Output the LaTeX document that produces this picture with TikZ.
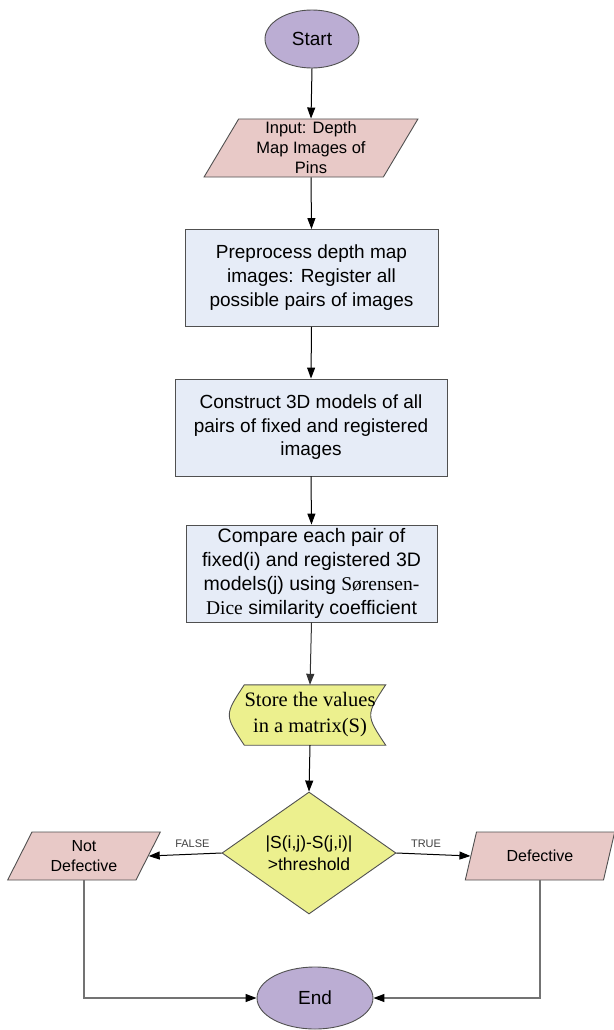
\documentclass[tikz,border=0pt]{standalone}
\usepackage{fontspec}
\setmainfont{Liberation Sans}
\newfontfamily\dicefont{Liberation Serif}
\usetikzlibrary{shapes.geometric,arrows.meta,backgrounds}
\definecolor{termfill}{RGB}{187,173,211}
\definecolor{iofill}{RGB}{232,201,199}
\definecolor{procfill}{RGB}{230,236,247}
\definecolor{decfill}{RGB}{236,240,142}
\definecolor{edgegray}{RGB}{80,80,80}
\definecolor{linkgray}{RGB}{115,115,115}

\begin{document}
\begin{tikzpicture}[x=1pt, y=-1pt,
	terminal/.style={ellipse, fill=termfill, draw=edgegray, line width=0.9pt, inner sep=0pt},
	iobox/.style={trapezium, trapezium left angle=63.4, trapezium right angle=116.6, trapezium stretches=true, fill=iofill, draw=edgegray, line width=0.9pt, align=center, inner sep=0pt},
	procbox/.style={rectangle, fill=procfill, draw=edgegray, line width=0.9pt, align=center, minimum height=97pt},
	decision/.style={diamond, fill=decfill, draw=edgegray, line width=0.9pt, align=center, inner sep=0pt, minimum width=174pt, minimum height=122pt},
	flow/.style={-{Triangle[length=11pt,width=8pt]}, black, line width=1pt},
	link/.style={-{Triangle[length=11pt,width=8pt,color=black]}, draw=linkgray, line width=1.2pt},
	flowlabel/.style={above, yshift=3pt, text=black!75, font=\fontsize{11}{13}\selectfont}]
	\useasboundingbox (0,0) rectangle (613,1030);
	
	\node[terminal, minimum width=94pt, minimum height=58pt, font=\fontsize{19}{23}\selectfont] (start) at (312, 39) {Start};
	\node[iobox, minimum width=214pt, minimum height=58pt, font=\fontsize{16.5}{20}\selectfont] (input) at (311, 148) {Input: Depth\\Map Images of\\Pins};
	\node[procbox, minimum width=253pt, font=\fontsize{19}{24}\selectfont] (prep) at (311.5, 278) {Preprocess depth map\\images: Register all\\possible pairs of images};
	\node[procbox, minimum width=272pt, font=\fontsize{19}{23.5}\selectfont] (cons) at (311, 427.5) {Construct 3D models of all\\pairs of fixed and registered\\images};
	\node[procbox, minimum width=251pt, font=\fontsize{19.5}{24}\selectfont] (comp) at (311.5, 573.5) {Compare each pair of\\fixed(i) and registered 3D\\models(j) using {\dicefont Sørensen-}\\{\dicefont Dice} similarity coefficient};
	\node[minimum width=151pt, minimum height=60pt, align=center, inner sep=0pt, font=\dicefont\fontsize{20.5}{26}\selectfont] (store) at (310, 715) {Store the values\\in a matrix(S)};
	\begin{pgfonlayer}{background}
		\filldraw[fill=decfill, draw=edgegray, line width=0.9pt] ([xshift=10pt]store.north west) -- (store.north east) .. controls ([xshift=-20pt]store.east) .. (store.south east) -- ([xshift=10pt]store.south west) .. controls ([xshift=-10pt]store.west) .. cycle;
	\end{pgfonlayer}
	\node[decision, font=\fontsize{17.5}{22}\selectfont] (test) at (309, 853) {|S(i,j)-S(j,i)|\\>threshold};
	\node[iobox, minimum width=153pt, minimum height=48pt, font=\fontsize{16}{20}\selectfont] (notdef) at (84, 856) {Not\\Defective};
	\node[iobox, minimum width=150pt, minimum height=48pt, font=\fontsize{16}{20}\selectfont] (def) at (540, 856) {Defective};
	\node[terminal, minimum width=116pt, minimum height=62pt, font=\fontsize{19}{23}\selectfont] (end) at (315, 998) {End};
	
	\draw[flow] (start.south) -- (input.north);
	\draw[flow] (input.south) -- (prep.north);
	\draw[flow] (prep.south) -- (cons.north);
	\draw[flow] (cons.south) -- (comp.north);
	\draw[flow, draw=black!80] (comp.south) -- (store.north);
	\draw[flow] (store.south) -- (test.north);
	\draw[flow] (test.west) -- node[flowlabel, pos=0.4] {FALSE} (notdef.east);
	\draw[flow] (test.east) -- node[flowlabel, pos=0.4] {TRUE} (def.west);
	\draw[link] (notdef.south) |- (end.west);
	\draw[link] (def.south) |- (end.east);
\end{tikzpicture}
\end{document}
